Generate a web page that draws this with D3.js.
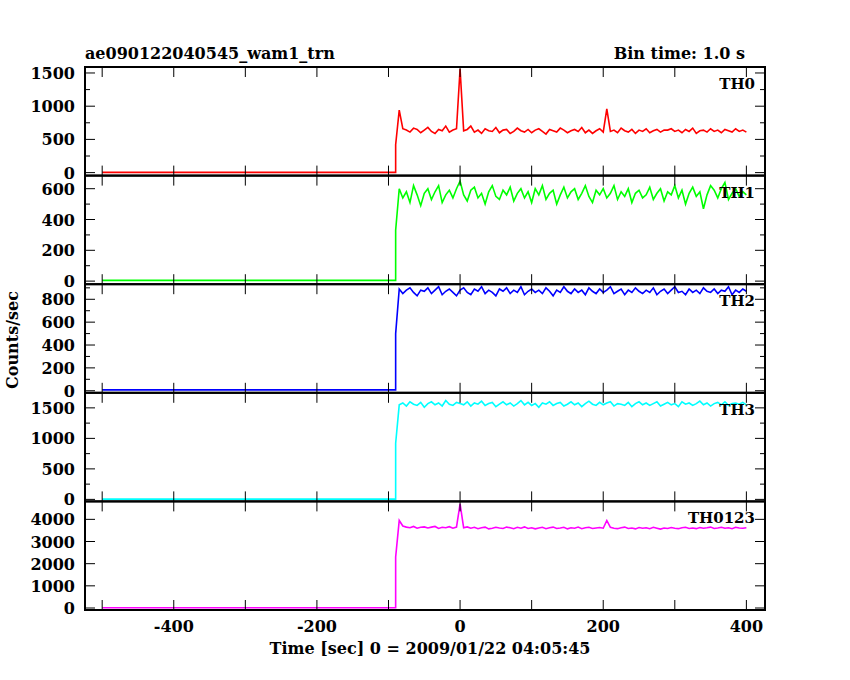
<!DOCTYPE html>
<html><head><meta charset="utf-8">
<script src="https://cdn.jsdelivr.net/npm/d3@7"></script>
<style>body{margin:0;background:#fff}text{font-family:"DejaVu Serif",serif;font-weight:bold}</style>
</head><body>
<script>
const width = 850, height = 680;

// shared time grid after trigger: -90 s, step 5 s
const tStart = -90, tStep = 5;
const preTimes = [-500, -90];
const panelNames = ["TH0", "TH1", "TH2", "TH3", "TH0123"];
const panelColors = ["#ff0000", "#00ff00", "#0000ff", "#00ffff", "#ff00ff"];
const preValues = [3, 5, 8, 5, 10];
const yDomains = [[-45, 1590], [-20, 685], [-18, 932], [-33, 1747], [-90, 4810]];
const yTickSteps = [500, 200, 200, 500, 1000];

const th0 = [420,940,660,640,610,670,650,600,640,680,
620,590,650,630,700,610,640,660,1560,630,
650,700,610,640,590,660,630,620,680,600,
640,650,590,620,670,630,610,650,600,640,
660,620,580,650,630,610,670,640,600,630,
650,620,680,600,640,590,630,660,610,960,
620,640,600,670,630,610,650,590,640,620,
660,600,630,650,610,640,640,660,620,640,
600,650,620,670,590,630,640,610,660,620,
640,600,650,630,610,660,620,640,610];
const th1 = [330,600,540,580,510,620,560,490,570,600,
530,580,620,510,560,590,540,600,650,560,
520,590,610,540,570,500,580,620,550,530,
590,560,610,520,570,600,540,580,510,600,
560,620,530,570,590,500,560,610,540,580,
600,530,570,620,550,510,590,560,600,540,
570,620,530,580,550,600,510,570,590,540,
560,610,530,570,600,520,580,560,620,540,
590,500,570,610,550,580,470,560,620,590,
540,600,640,530,570,600,550,580,560];
const th2 = [500,890,850,880,900,860,830,880,870,900,
850,880,910,840,870,890,860,830,880,900,
860,840,890,870,910,850,880,860,830,890,
870,900,850,880,860,910,840,870,890,860,
880,850,900,870,830,880,860,910,870,850,
890,860,880,840,900,870,850,890,860,880,
910,850,870,890,840,880,860,900,870,850,
880,860,900,840,870,890,850,880,910,860,
870,840,890,860,880,850,900,870,860,890,
850,880,870,910,840,880,860,890,870];
const th3 = [920,1550,1580,1530,1600,1560,1540,1590,1510,1570,
1600,1550,1580,1530,1620,1560,1540,1590,1570,1550,
1600,1530,1580,1560,1610,1540,1570,1590,1520,1560,
1600,1550,1580,1530,1570,1620,1550,1590,1540,1570,
1510,1580,1560,1600,1540,1570,1590,1530,1560,1600,
1550,1580,1520,1570,1610,1560,1540,1590,1550,1580,
1600,1530,1570,1560,1540,1590,1520,1570,1600,1550,
1580,1540,1570,1600,1530,1560,1590,1550,1570,1520,
1600,1560,1580,1540,1570,1610,1550,1580,1530,1570,
1590,1550,1600,1540,1570,1580,1560,1590,1550];
const th0123 = [2300,3950,3700,3650,3620,3680,3600,3640,3660,3610,
3650,3680,3590,3640,3620,3670,3600,3650,4700,3620,
3660,3600,3640,3580,3620,3650,3570,3600,3640,3610,
3590,3650,3620,3580,3640,3600,3660,3590,3620,3570,
3610,3640,3580,3620,3650,3590,3610,3640,3570,3620,
3600,3650,3580,3620,3640,3590,3610,3630,3600,3950,
3640,3600,3580,3620,3650,3590,3610,3570,3630,3600,
3620,3580,3640,3600,3560,3610,3590,3630,3600,3580,
3620,3640,3590,3610,3580,3630,3600,3620,3650,3590,
3610,3640,3600,3620,3580,3640,3610,3600,3620];
const series = [th0, th1, th2, th3, th0123];

const svg = d3.select('body').append('svg').attr('width', width).attr('height', height);

const plotLeft = 85, plotRight = 765, plotTop = 67, panelH = 108.6;
const x = d3.scaleLinear().domain([-524, 426]).range([plotLeft, plotRight]);
const xTicks = d3.range(-500, 401, 100);

series.forEach((vals, i) => {
  const y0 = plotTop + i * panelH, y1 = y0 + panelH;
  const y = d3.scaleLinear().domain(yDomains[i]).range([y1, y0]);
  const g = svg.append("g");
  const pts = preTimes.map(t => [t, preValues[i]])
    .concat(vals.map((v, k) => [tStart + k * tStep, v]));
  g.append("path").datum(pts)
    .attr("d", d3.line().x(d => x(d[0])).y(d => y(d[1])))
    .attr("fill", "none").attr("stroke", panelColors[i]).attr("stroke-width", 1.6);

  // inward ticks on all sides
  const step = yTickSteps[i];
  const minorStep = i === 4 ? step : step / 2;
  const minors = d3.range(0, yDomains[i][1], minorStep);
  const majors = d3.range(0, yDomains[i][1], step);
  minors.forEach(v => {
    const len = majors.includes(v) ? 10 : 5;
    g.append("line").attr("x1", plotLeft).attr("x2", plotLeft + len).attr("y1", y(v)).attr("y2", y(v)).attr("stroke", "#000");
    g.append("line").attr("x1", plotRight).attr("x2", plotRight - len).attr("y1", y(v)).attr("y2", y(v)).attr("stroke", "#000");
  });
  g.selectAll("text.yl").data(majors).enter().append("text")
    .attr("x", plotLeft - 10).attr("y", d => y(d) + 6).attr("text-anchor", "end")
    .style("font-size", "16px").text(d => d);
  xTicks.forEach(t => {
    g.append("line").attr("x1", x(t)).attr("x2", x(t)).attr("y1", y1).attr("y2", y1 - 10).attr("stroke", "#000");
    g.append("line").attr("x1", x(t)).attr("x2", x(t)).attr("y1", y0).attr("y2", y0 + 10).attr("stroke", "#000");
  });
  g.append("rect").attr("x", plotLeft).attr("y", y0).attr("width", plotRight - plotLeft).attr("height", panelH)
    .attr("fill", "none").attr("stroke", "#000").attr("stroke-width", 2);
  g.append("text").attr("x", plotRight - 10).attr("y", y0 + 22).attr("text-anchor", "end")
    .style("font-size", "15px").text(panelNames[i]);
});

svg.selectAll("text.xl").data([-400, -200, 0, 200, 400]).enter().append("text")
  .attr("x", d => x(d)).attr("y", plotTop + 5 * panelH + 22).attr("text-anchor", "middle")
  .style("font-size", "16px").text(d => d);

svg.append("text").attr("x", plotLeft).attr("y", 59).style("font-size", "16px").text("ae090122040545_wam1_trn");
svg.append("text").attr("x", 745).attr("y", 59).attr("text-anchor", "end").style("font-size", "16px").text("Bin time: 1.0 s");
svg.append("text").attr("x", 430).attr("y", 654).attr("text-anchor", "middle").style("font-size", "16px")
  .text("Time [sec] 0 = 2009/01/22 04:05:45");
svg.append("text").attr("transform", "translate(18,340) rotate(-90)").attr("text-anchor", "middle")
  .style("font-size", "16px").text("Counts/sec");
</script>
</body></html>
